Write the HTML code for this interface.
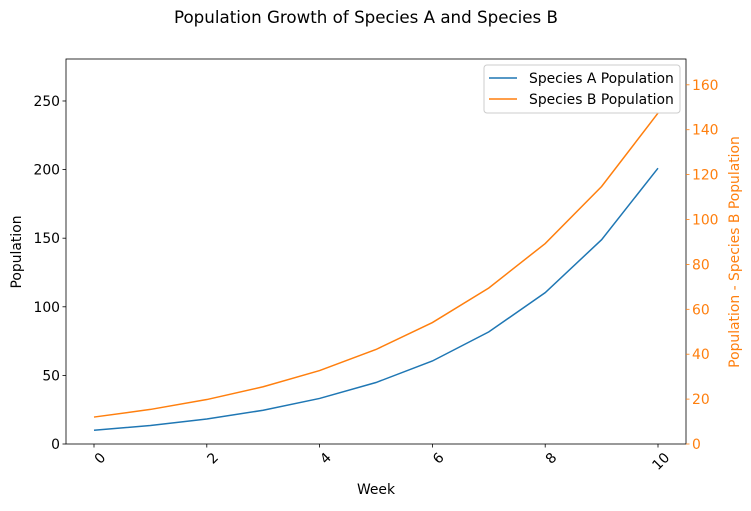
<!DOCTYPE html>
<html><head><meta charset="utf-8"><style>
body{margin:0;background:#fff;font-family:"Liberation Sans","DejaVu Sans",sans-serif;}
svg text{font-family:"DejaVu Sans","Liberation Sans",sans-serif;}
</style></head><body>
<svg id="chart" width="751" height="506" xmlns="http://www.w3.org/2000/svg">
<text x="366" y="23" font-size="16.7" text-anchor="middle">Population Growth of Species A and Species B</text>
<g id="plot"></g>
</svg>
<script>
const weeks=[0,1,2,3,4,5,6,7,8,9,10];
const speciesA=[10,13.5,18.2,24.6,33.2,44.8,60.5,81.7,110.3,148.9,201];
const speciesB=[12,15.4,19.8,25.5,32.7,42.1,54.1,69.5,89.3,114.7,147.4];
const xTicks=[0,2,4,6,8,10];
const yLeftTicks=[0,50,100,150,200,250];
const yRightTicks=[0,20,40,60,80,100,120,140,160];
const L=66,R=686,T=59,B=444;
const FS=13.9;
const x=v=>94+(658-94)*v/10;
const yl=v=>B-(B-T)*v/280.6;
const yr=v=>B-(B-T)*v/171.5;
const NS="http://www.w3.org/2000/svg";
const g=document.getElementById('plot');
function mk(t,a,txt){const e=document.createElementNS(NS,t);for(const k in a)e.setAttribute(k,a[k]);if(txt!==undefined)e.textContent=txt;g.appendChild(e);return e;}
function line(data,fy,color,name){
  const e=mk('polyline',{points:data.map((v,i)=>x(weeks[i])+','+fy(v)).join(' '),fill:'none',stroke:color,'stroke-width':1.5});
  
  
}
line(speciesA,yl,'#1f77b4','species-a-line');
line(speciesB,yr,'#ff7f0e','species-b-line');
const fr=mk('rect',{x:L,y:T,width:R-L,height:B-T,fill:'none',stroke:'#000','stroke-width':0.8});


xTicks.forEach(t=>{
  mk('line',{x1:x(t),x2:x(t),y1:B,y2:B+3.5,stroke:'#000','stroke-width':0.8});
  const e=mk('text',{x:x(t)+5,y:B+7,'font-size':FS,'text-anchor':'end',transform:`rotate(-45 ${x(t)+5} ${B+7})`,dy:'0.75em'},t);
  
  
});
yLeftTicks.forEach(t=>{
  mk('line',{x1:L-3.5,x2:L,y1:yl(t),y2:yl(t),stroke:'#000','stroke-width':0.8});
  const e=mk('text',{x:L-6,y:yl(t)+5,'font-size':FS,'text-anchor':'end'},t);
  
  
});
yRightTicks.forEach(t=>{
  mk('line',{x1:R,x2:R+3.5,y1:yr(t),y2:yr(t),stroke:'#ff7f0e','stroke-width':0.8});
  const e=mk('text',{x:R+6,y:yr(t)+5,'font-size':FS,fill:'#ff7f0e'},t);
  
  
});
let e=mk('text',{x:376,y:494,'font-size':FS,'text-anchor':'middle'},'Week');

e=mk('text',{x:21,y:252,'font-size':FS,'text-anchor':'middle',transform:'rotate(-90 21 252)'},'Population');

e=mk('text',{x:739,y:252,'font-size':FS,'text-anchor':'middle',fill:'#ff7f0e',transform:'rotate(-90 739 252)'},'Population - Species B Population');

const lg=mk('rect',{x:484,y:65,width:196,height:48,fill:'#fff',stroke:'#ccc',rx:3});

[['Species A Population','#1f77b4',78],['Species B Population','#ff7f0e',99]].forEach(([n,c,yy])=>{
  mk('line',{x1:489,x2:517,y1:yy,y2:yy,stroke:c,'stroke-width':1.5});
  const t=mk('text',{x:529,y:yy+5,'font-size':FS},n);
  
  
});
</script>
</body></html>
